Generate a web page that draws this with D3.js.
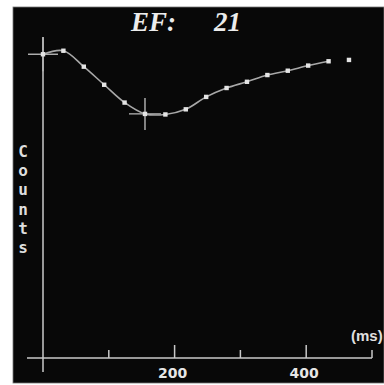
<!DOCTYPE html>
<html><head><meta charset="utf-8">
<script src="https://cdn.jsdelivr.net/npm/d3@7"></script>
<style>html,body{margin:0;padding:0;background:#fff;}svg{display:block;}</style>
</head><body>
<script>
const timesMs = [0,31,62,93,124,155,186,217,248,279,310,341,372,403,434,465];
const counts = [112.5,113.8,107.9,101.2,94.6,90.4,90.2,92.1,96.7,100.0,102.3,104.8,106.4,108.3,109.9,110.4];
const connectedCount = 15;
const xTicks = [100,200,300,400,500];
const xTickLabels = {200:"200",400:"400"};
const titleLabel = "EF:";
const efValue = "21";
const yLabel = "Counts";
const xUnit = "(ms)";
const edIndex = 0, esIndex = 5;

const W = 384, H = 385;
const svg = d3.select("body").append("svg").attr("width", W).attr("height", H);
svg.append("rect").attr("x",13).attr("y",7).attr("width",W-13).attr("height",376)
  .attr("fill","#080808").attr("stroke","#777").attr("stroke-width",0.8);

const x = d3.scaleLinear().domain([0,500]).range([43,372]);
const y = d3.scaleLinear().domain([0,120]).range([358,34]);

const axisCol = "#c8c8c8";
svg.append("line").attr("x1",27).attr("x2",x(500)).attr("y1",y(0)).attr("y2",y(0))
  .attr("stroke",axisCol).attr("stroke-width",1.5);
svg.append("line").attr("x1",x(0)).attr("x2",x(0)).attr("y1",37).attr("y2",372)
  .attr("stroke",axisCol).attr("stroke-width",1.5);
svg.selectAll(".tk").data(xTicks).enter().append("line")
  .attr("x1",d=>x(d)).attr("x2",d=>x(d)).attr("y1",y(0))
  .attr("y2",d=> xTickLabels[d] ? y(0)-13 : y(0)-8)
  .attr("stroke",axisCol).attr("stroke-width",1.5);
svg.selectAll(".tl").data(xTicks.filter(d=>xTickLabels[d])).enter().append("text")
  .attr("x",d=>x(d)-2).attr("y",378).attr("text-anchor","middle")
  .attr("font-family","DejaVu Sans").attr("font-weight","bold").attr("font-size",14)
  .attr("fill","#e6e6e6").text(d=>xTickLabels[d]);
svg.append("text").attr("x",351).attr("y",341)
  .attr("font-family","Liberation Sans").attr("font-weight","bold").attr("font-size",15)
  .attr("fill","#e0e0e0").text(xUnit);

const letters = yLabel.split("");
svg.selectAll(".yl").data(letters).enter().append("text")
  .attr("x",23).attr("y",(d,i)=>157+i*19.2).attr("text-anchor","middle")
  .attr("font-family","DejaVu Sans Mono").attr("font-weight","bold").attr("font-size",16)
  .attr("fill","#dedede").text(d=>d);

svg.append("text").attr("x",131).attr("y",31)
  .attr("font-family","Liberation Serif").attr("font-style","italic").attr("font-weight","bold").attr("font-size",27)
  .attr("fill","#ececec").text(titleLabel);
svg.append("text").attr("x",214).attr("y",31)
  .attr("font-family","Liberation Serif").attr("font-style","italic").attr("font-weight","bold").attr("font-size",27)
  .attr("fill","#ececec").text(efValue);

const pts = timesMs.map((t,i)=>({t, c:counts[i]}));
[[edIndex,15,17],[esIndex,16,16]].forEach(([i,hw,vh])=>{
  const px = x(pts[i].t), py = y(pts[i].c);
  svg.append("line").attr("x1",px-hw).attr("x2",px+hw).attr("y1",py).attr("y2",py)
    .attr("stroke","#b8b8b8").attr("stroke-width",1.4);
  svg.append("line").attr("x1",px).attr("x2",px).attr("y1",py-vh).attr("y2",py+vh)
    .attr("stroke","#b8b8b8").attr("stroke-width",1.4);
});

const line = d3.line().x(d=>x(d.t)).y(d=>y(d.c)).curve(d3.curveCatmullRom);
svg.append("path").datum(pts.slice(0,connectedCount)).attr("d",line)
  .attr("fill","none").attr("stroke","#a8a8a8").attr("stroke-width",1.6);

svg.selectAll(".mk").data(pts).enter().append("rect")
  .attr("x",d=>x(d.t)-2.2).attr("y",d=>y(d.c)-2.2).attr("width",4.4).attr("height",4.4)
  .attr("fill","#e4e4e4");
</script>
</body></html>
